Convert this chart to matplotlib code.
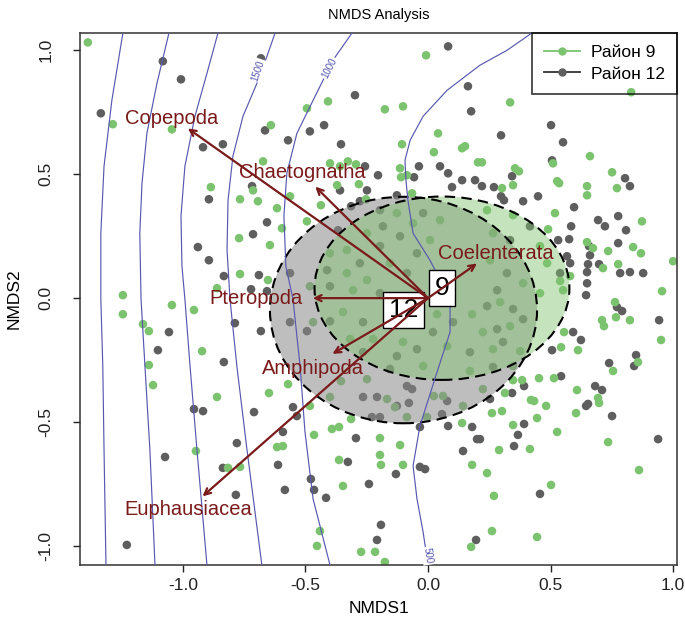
import numpy as np
import matplotlib
matplotlib.use("Agg")
import matplotlib.pyplot as plt
from matplotlib.patches import Ellipse
from matplotlib.lines import Line2D

plt.rcParams['font.family'] = ['Liberation Sans', 'DejaVu Sans']

# site scores, district 9
r9_pts = [
    (-1.388, 1.032), (-1.286, 0.702), (-1.045, 0.681), (-0.641, 0.698), (-0.673, 0.552),
    (-0.886, 0.448), (-0.767, 0.399), (-0.714, 0.435), (-0.694, 0.391), (-0.616, 0.363),
    (-0.771, 0.242), (-0.645, 0.214), (-0.767, 0.097), (-0.653, 0.073), (-1.245, 0.012),
    (-0.861, 0.040),
    (-0.008, 0.98), (-0.408, 0.794), (-0.176, 0.762), (-0.102, 0.774), (-0.494, 0.766),
    (0.041, 0.665), (-0.106, 0.621), (0.024, 0.589), (0.139, 0.605), (0.151, 0.613),
    (0.204, 0.548), (-0.4, 0.544), (-0.327, 0.552), (-0.294, 0.540), (-0.359, 0.532),
    (-0.114, 0.524), (-0.110, 0.488), (-0.086, 0.496), (-0.371, 0.456), (-0.282, 0.460),
    (-0.563, 0.411), (-0.437, 0.375), (-0.494, 0.310), (-0.253, 0.399), (-0.065, 0.423),
    (-0.596, 0.282),
    (0.335, 0.790), (0.829, 0.831), (0.661, 0.573), (0.510, 0.544), (0.355, 0.524),
    (0.371, 0.512), (0.751, 0.508), (0.527, 0.472), (0.535, 0.464), (0.649, 0.452),
    (0.771, 0.444), (0.649, 0.415), (0.518, 0.343), (0.873, 0.310), (0.347, 0.335),
    (0.490, 0.278), (0.649, 0.226), (0.673, 0.202), (0.735, 0.190), (0.837, 0.206),
    (0.869, 0.181), (0.776, 0.137), (0.714, 0.121), (1.0, 0.149), (0.955, 0.028),
    (0.302, 0.444), (0.347, 0.456), (0.220, 0.548), (0.539, 0.069), (0.580, 0.089),
    (-1.245, -0.065), (-1.045, -0.028), (-0.955, -0.048), (-1.163, -0.105), (-1.139, -0.133),
    (-0.922, -0.214), (-1.139, -0.270), (-1.122, -0.351), (-0.861, -0.399), (-0.649, -0.383),
    (-0.947, -0.617), (-0.816, -0.685), (-0.767, -0.681), (-0.616, -0.601),
    (-0.465, -0.552), (-0.392, -0.528), (-0.363, -0.520), (-0.196, -0.565), (-0.114, -0.593),
    (-0.196, -0.633), (-0.192, -0.673), (-0.102, -0.673), (-0.363, -0.653), (-0.347, -0.758),
    (-0.441, -0.940), (-0.453, -1.0), (-0.273, -1.024), (-0.216, -1.024), (-0.176, -1.065),
    (0.176, -1.004), (0.139, -0.504), (0.180, -0.673), (-0.592, -0.597), (-0.482, -0.435),
    (-0.4, -0.399), (-0.314, -0.488), (-0.571, -0.347), (-0.249, -0.327), (-0.355, -0.335),
    (-0.167, -0.407), (-0.135, -0.440), (0.024, -0.395), (0.061, -0.395), (0.143, -0.435),
    (-0.086, -0.480), (-0.004, -0.480),
    (0.555, -0.137), (0.543, -0.198), (0.612, -0.210), (0.710, -0.089), (0.718, -0.113),
    (0.767, -0.077), (0.824, -0.089), (0.951, -0.169), (0.755, -0.294), (0.857, -0.258),
    (0.453, -0.323), (0.514, -0.323), (0.608, -0.371), (0.694, -0.403), (0.698, -0.423),
    (0.604, -0.464), (0.384, -0.331), (0.347, -0.331), (0.314, -0.383), (0.420, -0.411),
    (0.433, -0.415), (0.482, -0.435), (0.261, -0.464), (0.302, -0.456), (0.445, -0.484),
    (0.347, -0.512), (0.527, -0.540), (0.735, -0.581), (0.290, -0.613), (0.416, -0.609),
    (0.241, -0.706), (0.861, -0.694), (0.502, -0.754), (0.269, -0.798), (0.261, -0.940),
    (0.445, -0.964), (0.763, -0.016),
    (-0.127, 0.343), (0.049, 0.315), (-0.061, 0.302), (-0.249, 0.262), (0.008, 0.234),
    (-0.331, 0.194), (-0.4, 0.181), (-0.155, 0.141), (-0.331, 0.101), (-0.249, 0.073),
    (-0.306, 0.032), (-0.482, 0.048), (0.241, 0.355), (0.265, 0.262), (0.457, 0.210),
    (0.486, 0.141), (0.253, 0.153), (0.388, 0.060), (0.457, 0.020), (0.551, 0.032),
    (-0.469, -0.097), (-0.347, -0.056), (0.037, -0.065), (0.180, -0.065), (-0.102, -0.177),
    (0.078, -0.194), (0.171, -0.294), (-0.224, -0.165), (-0.020, -0.274), (-0.318, -0.165),
    (0.294, -0.016), (0.224, -0.137), (0.335, -0.113), (0.265, -0.206), (0.376, -0.214),
    (0.347, -0.274), (0.224, -0.367),
]

# site scores, district 12
r12_pts = [
    (-1.082, 0.956), (-1.008, 0.883), (-0.682, 0.968), (-1.335, 0.746), (-0.665, 0.677),
    (-0.837, 0.621), (-0.918, 0.609), (-0.718, 0.452), (-0.894, 0.399), (-0.657, 0.306),
    (-0.714, 0.258), (-0.939, 0.206), (-0.894, 0.153), (-0.833, 0.089), (-0.690, 0.093),
    (-0.722, 0.036), (-0.657, 0.028),
    (0.082, 1.016), (-0.298, 0.819), (0.163, 0.855), (0.176, 0.754), (-0.424, 0.698),
    (-0.482, 0.673), (-0.571, 0.637), (-0.355, 0.621), (-0.037, 0.532), (0.049, 0.532),
    (0.082, 0.504), (0.139, 0.476), (0.192, 0.476), (0.098, 0.448), (-0.057, 0.488),
    (-0.204, 0.496), (-0.257, 0.532), (-0.359, 0.435), (-0.249, 0.435), (-0.127, 0.415),
    (-0.314, 0.371), (-0.278, 0.391),
    (0.502, 0.698), (0.298, 0.657), (0.551, 0.629), (0.506, 0.556), (0.343, 0.492),
    (0.804, 0.484), (0.824, 0.452), (0.220, 0.452), (0.269, 0.448), (0.298, 0.411),
    (0.310, 0.395), (0.388, 0.391), (0.449, 0.411), (0.596, 0.367), (0.776, 0.331),
    (0.694, 0.315), (0.722, 0.290), (0.808, 0.274), (0.584, 0.290), (0.576, 0.238),
    (0.531, 0.234), (0.776, 0.222), (0.657, 0.210), (0.661, 0.173), (0.567, 0.169),
    (0.653, 0.137), (0.698, 0.137), (0.824, 0.105), (0.878, 0.101), (0.784, 0.101),
    (0.649, 0.105), (0.649, 0.060), (0.645, 0.012), (0.580, 0.141),
    (-0.788, -0.101), (-0.682, -0.133), (-1.057, -0.137), (-1.102, -0.210), (-0.833, -0.258),
    (-0.955, -0.448), (-0.918, -0.456), (-0.710, -0.460), (-0.780, -0.585), (-1.073, -0.641),
    (-0.837, -0.685), (-0.612, -0.673), (-0.784, -0.794), (-1.229, -0.996),
    (-0.294, -0.565), (-0.327, -0.661), (-0.131, -0.710), (-0.033, -0.681), (-0.012, -0.690),
    (-0.241, -0.750), (-0.478, -0.730), (-0.584, -0.774), (-0.465, -0.774), (-0.416, -0.806),
    (-0.192, -0.915), (-0.208, -0.976), (0.196, -0.976), (0.143, -0.617), (0.180, -0.520),
    (0.2, -0.569), (0.082, -0.516), (-0.033, -0.520), (-0.592, -0.540), (-0.551, -0.440),
    (-0.535, -0.476),
    (-0.265, -0.399), (-0.208, -0.399), (-0.086, -0.355), (-0.065, -0.367), (-0.078, -0.423),
    (0.057, -0.468), (0.078, -0.415), (-0.229, -0.480), (-0.196, -0.480), (-0.127, -0.435),
    (0.592, -0.137), (0.624, -0.169), (0.506, -0.210), (0.543, -0.315), (0.392, -0.355),
    (0.343, -0.383), (0.682, -0.355), (0.710, -0.371), (0.645, -0.435), (0.653, -0.427),
    (0.751, -0.476), (0.739, -0.262), (0.849, -0.230), (0.841, -0.274), (0.943, -0.089),
    (0.392, -0.508), (0.367, -0.552), (0.351, -0.597), (0.939, -0.569), (0.457, -0.790),
    (0.771, -0.036), (0.792, -0.052), (0.212, -0.569),
    (-0.196, 0.355), (-0.020, 0.343), (-0.184, 0.290), (-0.367, 0.274), (-0.114, 0.250),
    (-0.196, 0.210), (-0.045, 0.181), (-0.278, 0.141), (-0.412, 0.113), (-0.086, 0.101),
    (-0.4, 0.048), (-0.196, 0.020), (-0.563, 0.101),
    (0.416, 0.290), (0.335, 0.234), (0.539, 0.101), (0.322, 0.101), (0.282, 0.032),
    (-0.563, -0.097), (-0.494, -0.133), (-0.4, -0.093), (-0.265, -0.097), (0.102, -0.097),
    (0.020, -0.137), (-0.045, -0.206), (0.171, -0.218), (-0.127, -0.234), (-0.155, -0.286),
    (-0.265, -0.218),
    (0.241, -0.032), (0.347, -0.044), (0.282, -0.125), (0.388, -0.085), (0.306, -0.177),
    (0.265, -0.278), (0.253, -0.407),
]

# group ellipses: centre, half-width, half-height
ell_groups = ['12', '9']
ell_cx = [-0.10, 0.057]
ell_cy = [-0.048, 0.04]
ell_a = [0.545, 0.52]
ell_b = [0.457, 0.37]

# fitted species vectors and where their names sit
species = ['Copepoda', 'Chaetognatha', 'Coelenterata', 'Pteropoda', 'Amphipoda', 'Euphausiacea']
vec_x = [-0.98, -0.46, 0.20, -0.47, -0.39, -0.92]
vec_y = [0.685, 0.45, 0.14, 0.0, -0.225, -0.80]
name_x = [-1.045, -0.514, 0.278, -0.702, -0.469, -0.98]
name_y = [0.726, 0.508, 0.181, 0.0, -0.282, -0.855]

# depth surface isolines
iso_levels = [3000, 2500, 2000, 1500, 1000, 500]
iso_x = [
    [-1.245, -1.29, -1.322, -1.335, -1.335, -1.327, -1.322, -1.314],
    [-1.057, -1.106, -1.147, -1.167, -1.176, -1.171, -1.155, -1.135, -1.114],
    [-0.857, -0.902, -0.951, -0.992, -1.008, -1.004, -0.992, -0.971, -0.943, -0.902],
    [-0.624, -0.686, -0.755, -0.796, -0.816, -0.82, -0.808, -0.78, -0.739, -0.678],
    [-0.31, -0.388, -0.469, -0.535, -0.576, -0.588, -0.58, -0.551, -0.522, -0.502, -0.469, -0.4],
    [0.424, 0.322, 0.212, 0.078, -0.02, -0.073, -0.094, -0.09, -0.082, -0.061, 0.008, 0.09,
     0.09, 0.037, -0.033, -0.061, -0.045, -0.02, 0.0],
]
iso_y = [
    [1.07, 0.798, 0.532, 0.262, -0.004, -0.274, -0.609, -1.077],
    [1.07, 0.867, 0.665, 0.464, 0.262, -0.004, -0.274, -0.609, -1.077],
    [1.07, 0.907, 0.734, 0.532, 0.331, 0.129, -0.004, -0.274, -0.609, -1.077],
    [1.07, 0.895, 0.734, 0.573, 0.395, 0.194, -0.004, -0.274, -0.609, -1.077],
    [1.07, 0.96, 0.798, 0.665, 0.504, 0.331, 0.129, -0.004, -0.274, -0.54, -0.81, -1.077],
    [1.07, 1.0, 0.94, 0.839, 0.734, 0.637, 0.556, 0.476, 0.395, 0.262, 0.153, -0.004,
     -0.137, -0.298, -0.516, -0.677, -0.81, -0.944, -1.077],
]
# (level, x, y, angle) of the printed isoline labels
iso_labels = [(1500, -0.694, 0.919, 71), (1000, -0.40, 0.927, 63), (500, 0.0, -1.04, -81)]

green = '#7cc36f'
grey = '#5e5e5e'
vec_col = '#7a1a1a'
iso_col = '#5858b0'

fig = plt.figure(figsize=(6.85, 6.25), dpi=100)
ax = fig.add_axes([80 / 685, 60 / 625, 597 / 685, 532 / 625])

p9 = np.array(r9_pts)
p12 = np.array(r12_pts)
ax.scatter(p12[:, 0], p12[:, 1], s=38, c=grey, edgecolors='none', zorder=2)
ax.scatter(p9[:, 0], p9[:, 1], s=38, c=green, edgecolors='none', zorder=2)

fills = ['#8a8a8a', '#80c470']
alphas = [0.55, 0.45]
for i in range(len(ell_groups)):
    e = Ellipse((ell_cx[i], ell_cy[i]), 2 * ell_a[i], 2 * ell_b[i],
                facecolor=fills[i], alpha=alphas[i], edgecolor='none', zorder=3)
    ax.add_patch(e)
for i in range(len(ell_groups)):
    e = Ellipse((ell_cx[i], ell_cy[i]), 2 * ell_a[i], 2 * ell_b[i],
                facecolor='none', edgecolor='black', lw=1.5, ls=(0, (5, 3)), zorder=4)
    ax.add_patch(e)

for xs, ys in zip(iso_x, iso_y):
    ax.plot(xs, ys, color=iso_col, lw=0.85, zorder=4.5)
for lev, lx, ly, ang in iso_labels:
    ax.text(lx, ly, str(lev), color=iso_col, fontsize=7, rotation=ang,
            ha='center', va='center', rotation_mode='anchor', zorder=4.6,
            bbox=dict(boxstyle='square,pad=0.1', fc='white', ec='none'))

# group centroid labels
for i in range(len(ell_groups)):
    ax.text(ell_cx[i], ell_cy[i], ell_groups[i], fontsize=19, ha='center', va='center',
            zorder=5, bbox=dict(boxstyle='square,pad=0.22', fc='white', ec='black', lw=1))

for i in range(len(species)):
    ax.annotate('', xy=(vec_x[i], vec_y[i]), xytext=(0, 0),
                arrowprops=dict(arrowstyle='->,head_length=0.45,head_width=0.22',
                                color=vec_col, lw=1.6, shrinkA=0, shrinkB=0), zorder=6)
    ax.text(name_x[i], name_y[i], species[i], color=vec_col, fontsize=14.5,
            ha='center', va='center', zorder=7)

ax.set_xlim(-1.42, 1.016)
ax.set_ylim(-1.077, 1.07)
ax.set_xticks([-1.0, -0.5, 0.0, 0.5, 1.0])
ax.set_yticks([-1.0, -0.5, 0.0, 0.5, 1.0])
ax.set_xticklabels(['-1.0', '-0.5', '0.0', '0.5', '1.0'])
ax.set_yticklabels(['-1.0', '-0.5', '0.0', '0.5', '1.0'], rotation=90, va='center')
ax.tick_params(length=5, width=1, labelsize=12.5, colors='#222222')
ax.tick_params(axis='x', pad=4)
ax.tick_params(axis='y', pad=14)
for sp in ax.spines.values():
    sp.set_linewidth(1.1)
    sp.set_color('#333333')

ax.set_xlabel('NMDS1', fontsize=12.5, labelpad=6)
ax.set_ylabel('NMDS2', fontsize=12.5, labelpad=12)
ax.set_title('NMDS Analysis', fontsize=10.5, pad=10)

handles = [
    Line2D([], [], color=green, marker='o', markersize=5, lw=1.3),
    Line2D([], [], color='#333333', marker='o', markersize=5, markerfacecolor=grey,
           markeredgecolor=grey, lw=1.3),
]
leg = ax.legend(handles, ['Район 9', 'Район 12'], loc='upper right', fontsize=12.5,
                frameon=True, fancybox=False, borderaxespad=0, handlelength=2.1,
                handletextpad=0.6, borderpad=0.7, labelspacing=0.35)
leg.get_frame().set_edgecolor('black')
leg.get_frame().set_linewidth(1.2)
leg.get_frame().set_facecolor('none')
leg.set_zorder(8)

fig.savefig('out.png', dpi=100)
